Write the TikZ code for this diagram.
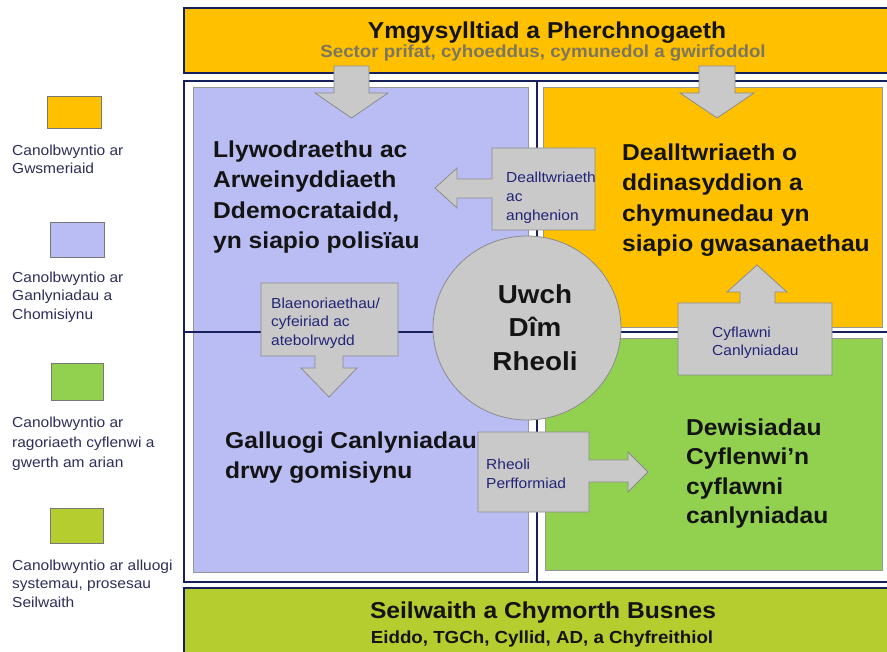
\documentclass[tikz,border=0pt]{standalone}
\usepackage{fontspec}
\setmainfont{Liberation Sans}[FakeStretch=1.07]
\definecolor{navy}{RGB}{22,32,92}
\definecolor{orangefill}{RGB}{255,192,0}
\definecolor{lavfill}{RGB}{186,189,243}
\definecolor{greenfill}{RGB}{146,208,80}
\definecolor{ygfill}{RGB}{181,205,46}
\definecolor{arrowgray}{RGB}{201,201,201}
\definecolor{arrowborder}{RGB}{140,140,140}
\definecolor{panelgray}{RGB}{150,150,150}
\definecolor{labelnavy}{RGB}{35,35,120}
\definecolor{legendnavy}{RGB}{45,45,90}
\definecolor{subgray}{RGB}{125,118,95}
\definecolor{maintext}{RGB}{20,20,20}
\newcommand{\myfs}[2]{\fontsize{#1}{#2}\selectfont}
\tikzset{
  frame/.style={draw=navy, line width=2.5pt},
  divider/.style={draw=navy, line width=2.2pt},
  panel/.style={draw=panelgray, line width=0.8pt},
  swatch/.style={draw=panelgray!80!black, line width=0.8pt},
  blockarrow/.style={fill=arrowgray, draw=arrowborder, line width=0.8pt, line join=miter},
  biglabel/.style={anchor=north west, inner sep=0pt, align=left, font=\bfseries\myfs{23}{30.5}, text=maintext},
  smalllabel/.style={anchor=north west, inner sep=0pt, align=left, font=\myfs{14.5}{19}, text=labelnavy},
  legendtext/.style={anchor=north west, inner sep=0pt, align=left, font=\myfs{14.5}{18.5}, text=legendnavy},
}
\begin{document}
\begin{tikzpicture}[x=1pt,y=-1pt]
\useasboundingbox (0,0) rectangle (887,652);
\fill[white] (0,0) rectangle (887,652);

% top bar
\path[frame, fill=orangefill] (184,8) rectangle (895,73);
% main frame
\path[frame, fill=white] (184,81) rectangle (895,582);
% panels
\path[panel, fill=lavfill] (193,87) rectangle (528,572);
\path[panel, fill=orangefill] (543,87) rectangle (882,327);
\path[panel, fill=greenfill] (545,338) rectangle (882,570);
% dividers
\coordinate (vtop) at (537,81);
\coordinate (vbot) at (537,582);
\coordinate (hleft) at (184,332);
\coordinate (hright) at (895,332);
\draw[divider] (vtop) -- (vbot);
\draw[divider] (hleft) -- (hright);
% bottom bar
\path[frame, fill=ygfill] (184,588) rectangle (895,660);

% down arrows from top bar
\draw[blockarrow] (334,66) -- (369,66) -- (369,93) -- (388,93) -- (351.5,118) -- (315,93) -- (334,93) -- cycle;
\draw[blockarrow] (699,66) -- (735,66) -- (735,93) -- (754,93) -- (717,118) -- (680,93) -- (699,93) -- cycle;

% central circle
\draw[fill=arrowgray, draw=arrowborder, line width=0.8pt] (527,328) ellipse [x radius=94pt, y radius=92pt];

% callout arrows
\draw[blockarrow] (595,148) -- (595,230) -- (492,230) -- (492,198) -- (457,198) -- (457,208) -- (435,188) -- (457,168) -- (457,179) -- (492,179) -- (492,148) -- cycle;
\draw[blockarrow] (261,283) -- (398,283) -- (398,356) -- (343,356) -- (343,368) -- (357,368) -- (329,397) -- (301,368) -- (315,368) -- (315,356) -- (261,356) -- cycle;
\draw[blockarrow] (478,432) -- (589,432) -- (589,460) -- (628,460) -- (628,452) -- (648,472) -- (628,492) -- (628,482) -- (589,482) -- (589,512) -- (478,512) -- cycle;
\draw[blockarrow] (678,303) -- (740,303) -- (740,292) -- (727,292) -- (757,265) -- (787,292) -- (775,292) -- (775,303) -- (832,303) -- (832,375) -- (678,375) -- cycle;

% bar texts
\node[anchor=base, inner sep=0pt, font=\bfseries\myfs{23}{27}, text=maintext] (title) at (547,39) {Ymgysylltiad a Pherchnogaeth};
\node[anchor=base, inner sep=0pt, font=\bfseries\myfs{17.5}{20}, text=subgray] (subtitle) at (543,58) {Sector prifat, cyhoeddus, cymunedol a gwirfoddol};
\node[anchor=base, inner sep=0pt, font=\bfseries\myfs{23}{27}, text=maintext] (footer) at (543,618) {Seilwaith a Chymorth Busnes};
\node[anchor=base, inner sep=0pt, font=\bfseries\myfs{17.5}{20}, text=maintext] (footersub) at (542,643) {Eiddo, TGCh, Cyllid, AD, a Chyfreithiol};

% panel labels
\node[biglabel] (gov) at (213,140.5) {Llywodraethu ac\\Arweinyddiaeth\\Ddemocrataidd,\\yn siapio polisïau};
\node[biglabel] (und) at (622,143.5) {Dealltwriaeth o\\ddinasyddion a\\chymunedau yn\\siapio gwasanaethau};
\node[biglabel, font=\bfseries\myfs{23}{30}] (enab) at (225,431.5) {Galluogi Canlyniadau\\drwy gomisiynu};
\node[biglabel, font=\bfseries\myfs{23}{29.5}] (deliv) at (686,418.5) {Dewisiadau\\Cyflenwi’n\\cyflawni\\canlyniadau};
\node[anchor=north, inner sep=0pt, align=center, font=\bfseries\myfs{26}{33.5}, text=maintext] (smt) at (535,284.4) {Uwch\\Dîm\\Rheoli};

% callout labels
\node[smalllabel] (needs) at (506,171.6) {Dealltwriaeth\\ac\\anghenion};
\node[smalllabel, font=\myfs{14.5}{18.5}] (prio) at (271,297.6) {Blaenoriaethau/\\cyfeiriad ac\\atebolrwydd};
\node[smalllabel] (perf) at (486,458.6) {Rheoli\\Perfformiad};
\node[smalllabel, font=\myfs{14.5}{18}] (outc) at (712,326.6) {Cyflawni\\Canlyniadau};

% legend
\path[swatch, fill=orangefill] (47,96) rectangle (101,128);
\node[legendtext] (leg1) at (12,144.6) {Canolbwyntio ar\\Gwsmeriaid};
\path[swatch, fill=lavfill] (50,222) rectangle (104,257);
\node[legendtext] (leg2) at (12,271.6) {Canolbwyntio ar\\Ganlyniadau a\\Chomisiynu};
\path[swatch, fill=greenfill] (51,363) rectangle (103,400);
\node[legendtext, font=\myfs{14.5}{20}] (leg3) at (12,416.6) {Canolbwyntio ar\\ragoriaeth cyflenwi a\\gwerth am arian};
\path[swatch, fill=ygfill] (50,508) rectangle (103,543);
\node[legendtext] (leg4) at (12,559.6) {Canolbwyntio ar alluogi\\systemau, prosesau\\Seilwaith};
\end{tikzpicture}
\end{document}
